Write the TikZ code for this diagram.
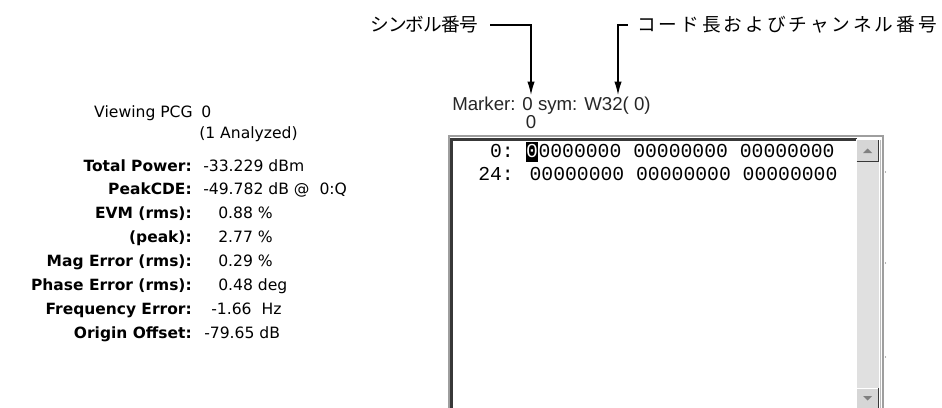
\documentclass[tikz,border=0pt]{standalone}
\usepackage{fontspec}
\setmainfont{DejaVu Sans}
\newfontfamily\jpfont{Noto Sans CJK JP}
\newfontfamily\jptight[LetterSpace=-5]{Noto Sans CJK JP}
\newfontfamily\jpwide[LetterSpace=16]{Noto Sans CJK JP}
\newfontfamily\markfont{Liberation Sans}
\newfontfamily\rowfont{Liberation Mono}
\usetikzlibrary{arrows.meta,positioning}
\definecolor{edgegray}{gray}{0.62}
\definecolor{edgedark}{gray}{0.22}
\definecolor{facegray}{gray}{0.84}
\definecolor{troughgray}{gray}{0.88}
\tikzset{
  lbl/.style={anchor=base east, inner sep=0pt, font=\fontsize{11.6}{13}\selectfont\bfseries},
  plainlbl/.style={anchor=base east, inner sep=0pt, font=\fontsize{11.7}{13}\selectfont},
  val/.style={anchor=base west, inner sep=0pt, font=\fontsize{11.7}{13}\selectfont},
  jplbl/.style={inner sep=0pt},
  marktext/.style={anchor=base west, inner sep=0pt, text=black!85, font=\markfont\fontsize{14}{16}\selectfont},
  rowtext/.style={anchor=base west, inner sep=0pt, font=\rowfont\fontsize{14.8}{16}\selectfont},
  pointer/.style={line width=0.9pt, -{Latex[length=10pt,width=5.5pt]}},
  button/.style={fill=facegray, draw=none}
}
\begin{document}
\begin{tikzpicture}[x=0.75pt,y=-0.75pt]
  \useasboundingbox (0,0) rectangle (942,407);

  % left panel
  \node (view)   at (193,117) [plainlbl] {Viewing PCG};
  \node (viewv)  at (201,117) [val] {0};
  \node (anlz)   at (199,138) [val] {(1 Analyzed)};
  \node (tp)     at (192,171) [lbl] {Total Power:};
  \node (tpv)    at (203,171) [val] {-33.229 dBm};
  \node (pk)     at (192,194) [lbl] {PeakCDE:};
  \node (pkv)    at (203,194) [val] {-49.782 dB @\ \ 0:Q};
  \node (evm)    at (192,218) [lbl] {EVM (rms):};
  \node (evmv)   at (218,218) [val] {0.88 \%};
  \node (evpk)   at (192,242) [lbl] {(peak):};
  \node (evpkv)  at (218,242) [val] {2.77 \%};
  \node (mag)    at (192,266) [lbl] {Mag Error (rms):};
  \node (magv)   at (218,266) [val] {0.29 \%};
  \node (ph)     at (192,290) [lbl] {Phase Error (rms):};
  \node (phv)    at (218,290) [val] {0.48 deg};
  \node (fq)     at (192,314) [lbl] {Frequency Error:};
  \node (fqv)    at (211,314) [val] {-1.66\ \ Hz};
  \node (oo)     at (192,338) [lbl] {Origin Offset:};
  \node (oov)    at (204,338) [val] {-79.65 dB};

  % window frame
  \draw[edgegray, line width=1pt] (449,136) rectangle (883,430);
  \draw[edgedark, line width=1.6pt] (451.5,430) -- (451.5,139.5) -- (857,139.5);
  \fill[troughgray] (857,161) rectangle (879,388);
  \draw[edgegray!70, line width=1pt] (880.5,140) -- (880.5,430);

  % scroll buttons
  \node (up) at (867.5,150.5) [button, minimum width=15.75pt, minimum height=15.75pt] {};
  \draw[white, line width=0.8pt] (up.south west) |- (up.north east);
  \draw[edgedark, line width=1pt] (up.south west) -| (up.north east);
  \fill[gray] (863,153) -- (872,153) -- (867.5,148.5) -- cycle;
  \node (down) at (867.5,399) [button, minimum width=15.75pt, minimum height=15.75pt] {};
  \draw[white, line width=0.8pt] (down.south west) |- (down.north east);
  \draw[edgedark, line width=1pt] (down.south west) -| (down.north east);
  \fill[gray] (863,396) -- (872,396) -- (867.5,400.5) -- cycle;

  % tick dots
  \foreach \yy in {172,263,357}
    \fill[black!60] (885.5,\yy) circle (0.6);

  % marker line
  \node (mark)  at (452,110) [marktext] {Marker: 0 sym: W32( 0)};
  \node (mzero) at (531,128) [marktext, anchor=base] {0};

  % code rows
  \node (r1)  at (478,157) [rowtext] {\phantom{2}0:\phantom{0}};
  \node (cur) [right=0pt of r1.base east, anchor=base west, inner sep=0pt, fill=black, text=white,
               text height=11pt, text depth=3.6pt, font=\rowfont\fontsize{14.8}{16}\selectfont] {0};
  \node (r1b) [right=0pt of cur.base east, rowtext] {0000000 00000000 00000000};
  \node (r2)  at (478,180) [rowtext] {24: 00000000 00000000 00000000};

  % callouts
  \node (sym)  at (478,25) [jplbl, anchor=east, font=\jptight\fontsize{14}{16}\selectfont] {シンボル番号};
  \node (code) at (637,25) [jplbl, anchor=west, font=\jpwide\fontsize{14}{16}\selectfont] {コード長およびチャンネル番号};
  \coordinate (symtip)  at (mzero |- 0,95);
  \coordinate (codetip) at (618,95);
  \draw[pointer] ([xshift=9pt]sym.east) -| (symtip);
  \draw[pointer] ([xshift=-7pt]code.west) -| (codetip);
\end{tikzpicture}
\end{document}
